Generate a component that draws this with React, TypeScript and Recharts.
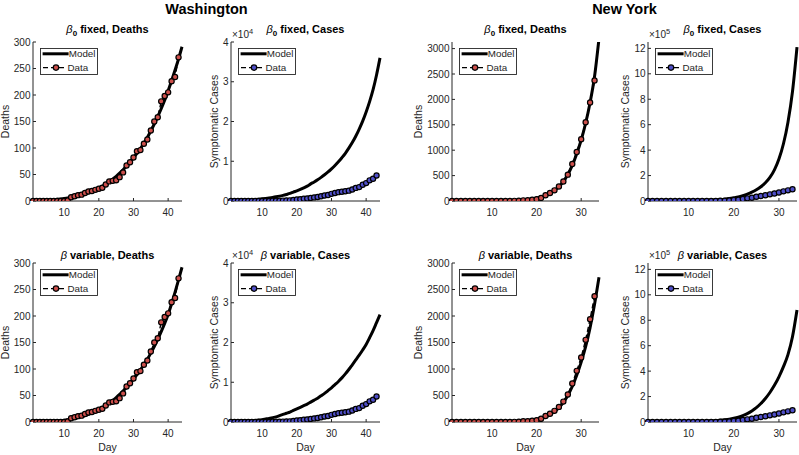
import React from 'react';
import { LineChart, Line, XAxis, YAxis, Legend } from 'recharts';

// Washington, days 1..43 observed, model to day 44
const waDeathsData = [0, 0, 0, 0, 0, 0, 0, 0, 0, 0, 1, 7, 9, 11, 12, 15, 18, 19, 21, 23, 25, 31, 37, 38, 39, 45, 54, 67, 73, 82, 94, 96, 108, 116, 133, 150, 158, 188, 198, 205, 226, 234, 271];
const waDeathsFixed = [0, 0.2, 0.5, 0.9, 1.3, 1.8, 2.4, 3.1, 3.9, 4.8, 5.8, 7, 8.3, 9.8, 11.4, 13.2, 15.3, 17.8, 20.7, 24, 27.7, 31.7, 36.2, 41.2, 46.6, 52.5, 59, 66, 73.5, 81.5, 90, 99, 109, 120, 132, 145, 159, 174, 190, 208, 227, 247, 268, 291];
const waDeathsVar = [0, 0.1, 0.2, 0.4, 0.6, 0.9, 1.3, 1.8, 2.5, 3.3, 4.3, 5.5, 6.9, 8.5, 10.3, 12.3, 14.6, 17.2, 20.1, 23.4, 27, 31, 35.5, 40.5, 46, 52, 58.5, 65.5, 73, 81, 89.5, 98.5, 108, 118.5, 130, 142.5, 156, 170.5, 186, 203, 223, 245, 268, 292];
const waCasesData = [1, 1, 1, 1, 1, 1, 1, 1, 1, 1, 18, 27, 39, 70, 79, 102, 136, 162, 270, 366, 442, 568, 642, 769, 904, 1012, 1187, 1376, 1524, 1793, 1996, 2221, 2328, 2469, 2600, 2900, 3300, 3500, 4100, 4500, 5200, 5600, 6400];
const waCasesFixed = [0, 20, 50, 90, 140, 200, 270, 350, 440, 540, 650, 770, 900, 1050, 1220, 1420, 1650, 1900, 2250, 2550, 2900, 3300, 3750, 4300, 4800, 5350, 5950, 6600, 7300, 8100, 8950, 9900, 10900, 12000, 13300, 14700, 16300, 18100, 20100, 22400, 25000, 28000, 31700, 36000];
const waCasesVar = [0, 50, 100, 150, 200, 250, 300, 400, 500, 600, 750, 900, 1100, 1300, 1600, 1900, 2200, 2500, 2900, 3300, 3700, 4100, 4500, 5000, 5500, 6000, 6600, 7200, 7900, 8600, 9400, 10200, 11100, 12100, 13200, 14400, 15600, 16800, 18100, 19500, 21200, 23000, 25000, 27000];

// New York, days 1..33 observed, model to day 34
const nyDeathsData = [0, 0, 0, 0, 0, 0, 0, 0, 0, 0, 0, 0, 0, 2, 3, 7, 13, 15, 25, 35, 60, 114, 157, 210, 285, 385, 519, 728, 965, 1218, 1550, 1941, 2373];
const nyDeathsFixed = [0, 0, 0, 0, 0, 0, 0, 0, 0, 0, 0, 0, 1, 2, 4, 7, 12, 20, 35, 55, 80, 112, 155, 210, 280, 380, 520, 700, 930, 1200, 1530, 1940, 2450, 3200];
const nyDeathsVar = [0, 0, 0, 0, 0, 0, 0, 0, 0, 0, 0, 0, 1, 2, 4, 7, 12, 20, 32, 48, 70, 100, 140, 195, 270, 370, 500, 670, 880, 1130, 1420, 1780, 2220, 2730];
const nyCasesData = [1, 1, 2, 11, 22, 44, 89, 106, 142, 173, 217, 326, 421, 610, 732, 950, 1700, 2382, 4152, 7102, 10356, 15168, 20875, 25665, 33066, 38987, 44635, 52318, 59513, 66497, 75795, 83712, 92381];
const nyCasesFixed = [0, 100, 180, 280, 400, 550, 750, 1000, 1300, 1700, 2200, 2900, 3800, 5000, 6500, 8500, 11000, 14500, 19000, 25000, 32000, 42000, 54000, 69000, 88000, 112000, 143000, 185000, 245000, 330000, 450000, 620000, 860000, 1210000];
const nyCasesVar = [0, 100, 200, 300, 450, 650, 900, 1200, 1600, 2100, 2800, 3600, 4700, 6000, 7800, 10000, 13000, 17000, 22000, 29000, 38000, 50000, 66000, 87000, 113000, 145000, 185000, 232000, 288000, 355000, 435000, 530000, 670000, 880000];

const waDayTicks = [10, 20, 30, 40];
const nyDayTicks = [10, 20, 30];
const waDeathTicks = [0, 50, 100, 150, 200, 250, 300];
const waCaseTicks = [0, 10000, 20000, 30000, 40000];
const nyDeathTicks = [0, 500, 1000, 1500, 2000, 2500, 3000];
const nyCaseTicks = [0, 200000, 400000, 600000, 800000, 1000000, 1200000];

const FONT = '"Liberation Sans", Arial, Helvetica, sans-serif';
const INK = '#262626';
const RED = '#cc4f4b';
const BLUE = '#4f4fc8';

const AXW = 45;
const AXH = 40;
const MT = 5;
const MR = 5;

type Row = { day: number; model: number; data: number | null };

const toRows = (model: number[], data: number[]): Row[] =>
  model.map((m, i) => ({ day: i + 1, model: m, data: i < data.length ? data[i] : null }));

const LegendBox = ({ fill }: { fill: string }) => (
  <svg width={58} height={27} style={{ display: 'block' }}>
    <rect x={0.5} y={0.5} width={57} height={26} fill="#fff" stroke={INK} strokeWidth={0.9} />
    <line x1={2.6} x2={28.6} y1={5.8} y2={5.8} stroke="#000" strokeWidth={3} />
    <text x={28.8} y={9.4} fontSize={9.8} fill={INK} fontFamily={FONT}>Model</text>
    <line x1={3} x2={25} y1={19.6} y2={19.6} stroke="#000" strokeWidth={1.4} strokeDasharray="5 3" />
    <circle cx={16} cy={19.6} r={2.7} fill={fill} stroke="#000" strokeWidth={1.2} />
    <text x={27.5} y={23} fontSize={9.8} fill={INK} fontFamily={FONT}>Data</text>
  </svg>
);

type PanelProps = {
  left: number;
  top: number;
  w: number;
  h: number;
  rows: Row[];
  xMax: number;
  xTicks: number[];
  yMax: number;
  yTicks: number[];
  yDiv: number;
  yLabel: string;
  yLabelDist: number;
  showDay: boolean;
  fill: string;
};

const Panel = (p: PanelProps) => (
  <div style={{ position: 'absolute', left: p.left - AXW, top: p.top - MT }}>
    <LineChart
      width={p.w + AXW + MR}
      height={p.h + MT + AXH}
      data={p.rows}
      margin={{ top: MT, right: MR, left: 0, bottom: 0 }}
    >
      <XAxis
        dataKey="day"
        type="number"
        domain={[1, p.xMax]}
        ticks={p.xTicks}
        height={AXH}
        tickSize={-3}
        tickMargin={10.6}
        stroke={INK}
        tick={{ fill: INK, fontSize: 10, fontFamily: FONT }}
        label={p.showDay ? { value: 'Day', position: 'insideBottom', offset: 11, fill: INK, fontSize: 10.5, fontFamily: FONT } : undefined}
      />
      <XAxis xAxisId="top" orientation="top" type="number" domain={[1, p.xMax]} ticks={p.xTicks} height={0} tick={false} tickSize={-3} stroke={INK} />
      <YAxis
        type="number"
        domain={[0, p.yMax]}
        ticks={p.yTicks}
        allowDataOverflow
        width={AXW}
        tickSize={-3}
        tickMargin={5.5}
        stroke={INK}
        tick={{ fill: INK, fontSize: 10, fontFamily: FONT }}
        tickFormatter={(v: number) => String(v / p.yDiv)}
        label={{
          value: p.yLabel,
          angle: -90,
          position: 'insideLeft',
          offset: AXW - p.yLabelDist,
          style: { textAnchor: 'middle' },
          fill: INK,
          fontSize: 10.5,
          fontFamily: FONT,
        }}
      />
      <YAxis yAxisId="right" orientation="right" type="number" domain={[0, p.yMax]} ticks={p.yTicks} width={0} tick={false} tickSize={-3} stroke={INK} />
      <Legend
        layout="vertical"
        align="center"
        verticalAlign="middle"
        wrapperStyle={{ left: AXW + 7, top: MT + 6, width: 58, height: 27 }}
        content={() => <LegendBox fill={p.fill} />}
      />
      <Line dataKey="model" type="monotone" stroke="#000" strokeWidth={3} dot={false} isAnimationActive={false} />
      <Line
        dataKey="data"
        type="linear"
        stroke="#000"
        strokeWidth={1.4}
        strokeDasharray="5 3"
        dot={{ r: 2.6, fill: p.fill, stroke: '#000', strokeWidth: 1.2, strokeDasharray: '0' }}
        isAnimationActive={false}
      />
    </LineChart>
  </div>
);

const ROW_T = [42, 263];
const PH = 159;
const COLS = [
  { l: 33, r: 182 },
  { l: 231, r: 380 },
  { l: 452, r: 599 },
  { l: 648, r: 797 },
];

const panels = [
  { col: 0, row: 0, rows: toRows(waDeathsFixed, waDeathsData), xMax: 44, xTicks: waDayTicks, yMax: 300, yTicks: waDeathTicks, yDiv: 1, yLabel: 'Deaths', yLabelDist: 27.7, fill: RED, name: 'Deaths', exp: '' },
  { col: 1, row: 0, rows: toRows(waCasesFixed, waCasesData), xMax: 44, xTicks: waDayTicks, yMax: 40000, yTicks: waCaseTicks, yDiv: 10000, yLabel: 'Symptomatic Cases', yLabelDist: 17.2, fill: BLUE, name: 'Cases', exp: '4' },
  { col: 2, row: 0, rows: toRows(nyDeathsFixed, nyDeathsData), xMax: 34, xTicks: nyDayTicks, yMax: 3130, yTicks: nyDeathTicks, yDiv: 1, yLabel: 'Deaths', yLabelDist: 34, fill: RED, name: 'Deaths', exp: '' },
  { col: 3, row: 0, rows: toRows(nyCasesFixed, nyCasesData), xMax: 34, xTicks: nyDayTicks, yMax: 1250000, yTicks: nyCaseTicks, yDiv: 100000, yLabel: 'Symptomatic Cases', yLabelDist: 22.5, fill: BLUE, name: 'Cases', exp: '5' },
  { col: 0, row: 1, rows: toRows(waDeathsVar, waDeathsData), xMax: 44, xTicks: waDayTicks, yMax: 300, yTicks: waDeathTicks, yDiv: 1, yLabel: 'Deaths', yLabelDist: 27.7, fill: RED, name: 'Deaths', exp: '' },
  { col: 1, row: 1, rows: toRows(waCasesVar, waCasesData), xMax: 44, xTicks: waDayTicks, yMax: 40000, yTicks: waCaseTicks, yDiv: 10000, yLabel: 'Symptomatic Cases', yLabelDist: 17.2, fill: BLUE, name: 'Cases', exp: '4' },
  { col: 2, row: 1, rows: toRows(nyDeathsVar, nyDeathsData), xMax: 34, xTicks: nyDayTicks, yMax: 3000, yTicks: nyDeathTicks, yDiv: 1, yLabel: 'Deaths', yLabelDist: 34, fill: RED, name: 'Deaths', exp: '' },
  { col: 3, row: 1, rows: toRows(nyCasesVar, nyCasesData), xMax: 34, xTicks: nyDayTicks, yMax: 1250000, yTicks: nyCaseTicks, yDiv: 100000, yLabel: 'Symptomatic Cases', yLabelDist: 22.5, fill: BLUE, name: 'Cases', exp: '5' },
];

export default function App() {
  return (
    <div style={{ position: 'absolute', left: 0, top: 0, width: 799, height: 455, background: '#fff', overflow: 'hidden' }}>
      {panels.map((p, i) => (
        <Panel
          key={i}
          left={COLS[p.col].l}
          top={ROW_T[p.row]}
          w={COLS[p.col].r - COLS[p.col].l}
          h={PH}
          rows={p.rows}
          xMax={p.xMax}
          xTicks={p.xTicks}
          yMax={p.yMax}
          yTicks={p.yTicks}
          yDiv={p.yDiv}
          yLabel={p.yLabel}
          yLabelDist={p.yLabelDist}
          showDay={p.row === 1}
          fill={p.fill}
        />
      ))}
      <svg width={799} height={455} style={{ position: 'absolute', left: 0, top: 0, pointerEvents: 'none' }} fontFamily={FONT}>
        <text x={206.5} y={14} textAnchor="middle" fontSize={14.5} fontWeight="bold" fill="#000">Washington</text>
        <text x={624.5} y={14} textAnchor="middle" fontSize={14.5} fontWeight="bold" fill="#000">New York</text>
        {panels.map((p, i) => {
          const c = COLS[p.col];
          const t = ROW_T[p.row];
          const cx = (c.l + c.r) / 2;
          return (
            <g key={i}>
              {p.row === 0 ? (
                <text x={cx} y={t - 9} textAnchor="middle" fontSize={11} fontWeight="bold" fill="#000">
                  <tspan fontStyle="italic" fontWeight="normal">β</tspan>
                  <tspan fontSize={8} dy={3}>0</tspan>
                  <tspan dy={-3}>{` fixed, ${p.name}`}</tspan>
                </text>
              ) : (
                <text x={cx} y={t - 4} textAnchor="middle" fontSize={11} fontWeight="bold" fill="#000">
                  <tspan fontStyle="italic" fontWeight="normal">β</tspan>
                  <tspan>{` variable, ${p.name}`}</tspan>
                </text>
              )}
              {p.exp && (
                <text x={c.l + 1} y={t - 4} fontSize={10} fill={INK}>
                  ×10<tspan fontSize={7.5} dy={-4}>{p.exp}</tspan>
                </text>
              )}
            </g>
          );
        })}
      </svg>
    </div>
  );
}
